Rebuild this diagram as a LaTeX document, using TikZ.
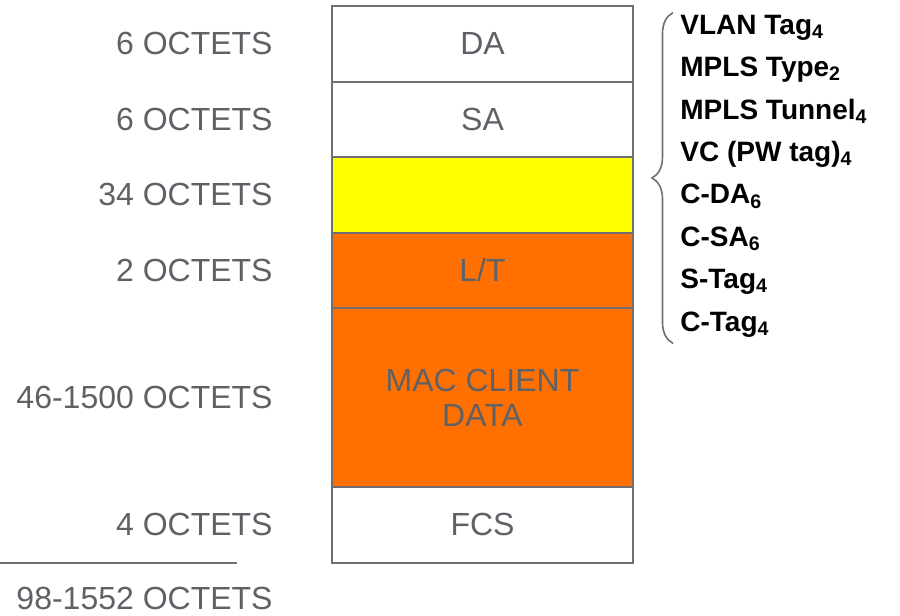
\documentclass[tikz,border=0pt]{standalone}
\usepackage{fontspec}
\setmainfont{Liberation Sans}
\usetikzlibrary{positioning, decorations.pathreplacing}

\definecolor{framegray}{HTML}{6E6E73}
\definecolor{textgray}{HTML}{606167}
\definecolor{hdryellow}{HTML}{FFFF00}
\definecolor{dataorange}{HTML}{FF7000}

\begin{document}
\begin{tikzpicture}[
  x=0.5pt, y=-0.5pt,
  field/.style={draw=framegray, line width=1pt, fill=white, outer sep=0pt, inner sep=0pt, align=center,
    minimum width=150.5pt, minimum height=37.75pt, text=textgray, font=\fontsize{16pt}{17.5pt}\selectfont},
  lbl/.style={inner sep=0pt, text=textgray, font=\fontsize{16pt}{19pt}\selectfont},
  tags/.style={inner sep=0pt, align=left, font=\fontsize{14pt}{21.2pt}\selectfont\bfseries},
  rule/.style={draw=framegray, line width=1pt},
  brc/.style={draw=framegray, line width=0.8pt, decorate, decoration={brace, amplitude=10.5pt}},
]
\useasboundingbox (0,0) rectangle (900,616);

% === FRAME FIELDS ===
\node[field] (da) at (482.5,43.75) {DA};
\node[field, below=0pt of da] (sa) {SA};
\node[field, fill=hdryellow, below=0pt of sa] (hdr) {};
\node[field, fill=dataorange, below=0pt of hdr] (lt) {L/T};
\node[field, fill=dataorange, minimum height=89.5pt, below=0pt of lt] (mac) {MAC CLIENT\\DATA};
\node[field, below=0pt of mac] (fcs) {FCS};

% === SIZES ===
\node[lbl, left=29.5pt of da] (lda) {6 OCTETS};
\node[lbl, left=29.5pt of sa] (lsa) {6 OCTETS};
\node[lbl, left=29.5pt of hdr] (lhdr) {34 OCTETS};
\node[lbl, left=29.5pt of lt] (llt) {2 OCTETS};
\node[lbl, left=29.5pt of mac] (lmac) {46-1500 OCTETS};
\node[lbl, left=29.5pt of fcs] (lfcs) {4 OCTETS};

\coordinate (origin) at (0,0);
\draw[rule] (origin |- fcs.south) -- ++(237,0);
\node[lbl, below left=25pt and 0pt of lfcs.south east] (total) {98-1552 OCTETS};

% === ENCAPSULATION ===
\node[tags, anchor=west] (encap) at (680,176) {VLAN Tag\textsubscript{4}\\MPLS Type\textsubscript{2}\\MPLS Tunnel\textsubscript{4}\\VC (PW tag)\textsubscript{4}\\C-DA\textsubscript{6}\\C-SA\textsubscript{6}\\S-Tag\textsubscript{4}\\C-Tag\textsubscript{4}};
\draw[brc] ([xshift=-3.5pt, yshift=-3pt]encap.south west) -- ([xshift=-3.5pt, yshift=1pt]encap.north west);

\end{tikzpicture}
\end{document}
